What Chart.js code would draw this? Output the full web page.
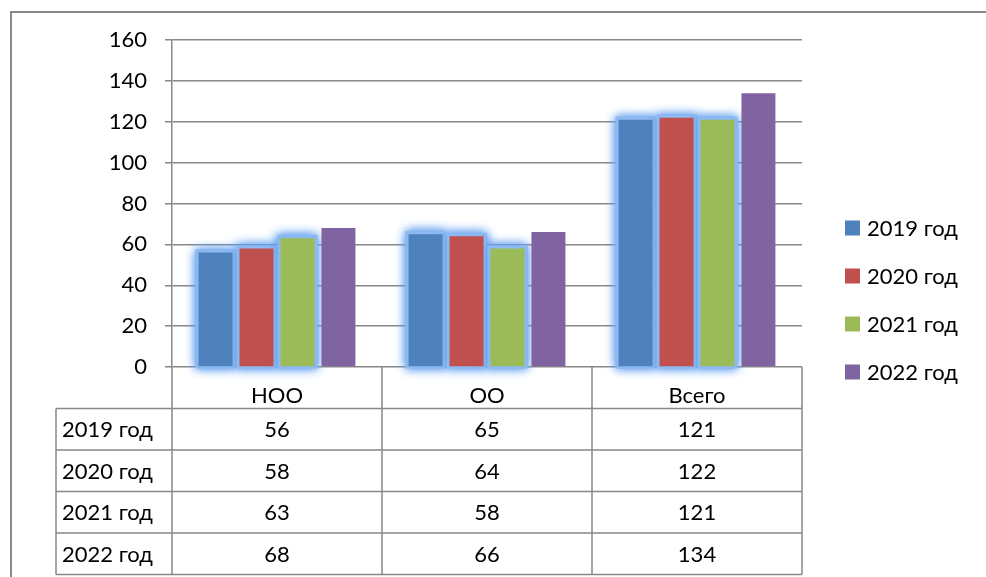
<!DOCTYPE html>
<html>
<head>
<meta charset="utf-8">
<script src="https://cdn.jsdelivr.net/npm/chart.js@4.4.0/dist/chart.umd.min.js"></script>
<style>
  html, body { margin: 0; padding: 0; background: #fff; }
  #wrap { width: 986px; height: 577px; position: relative; }
</style>
</head>
<body>
<div id="wrap"><canvas id="chart" width="986" height="577"></canvas></div>
<script>
const categories = ['НОО', 'ОО', 'Всего'];
const seriesNames = ['2019 год', '2020 год', '2021 год', '2022 год'];
const values2019 = [56, 65, 121];
const values2020 = [58, 64, 122];
const values2021 = [63, 58, 121];
const values2022 = [68, 66, 134];
const seriesColors = ['#4F81BD', '#C0504D', '#9BBB59', '#8064A2'];
const yMax = 160;
const yStep = 20;

const FONT = 'Lato, "Open Sans", sans-serif';
const FONT_SIZE = 22;
const lineGray = '#888888';
const ROW_H = 41.5;

// glow behind the first three series
const glowPlugin = {
  id: 'glow',
  beforeDatasetsDraw(chart) {
    const ctx = chart.ctx;
    ctx.save();
    ctx.shadowColor = 'rgba(100,160,240,1)';
    ctx.shadowBlur = 10;
    ctx.fillStyle = 'rgba(140,185,240,1)';
    for (let pass = 0; pass < 2; pass++) {
      for (let d = 0; d < 3; d++) {
        const meta = chart.getDatasetMeta(d);
        meta.data.forEach(bar => {
          const w = bar.width;
          ctx.fillRect(bar.x - w / 2 - 3, bar.y - 3, w + 6, bar.base - bar.y + 5);
        });
      }
    }
    ctx.restore();
  }
};

// data table under the axis, legend on the right, outer frame
const tablePlugin = {
  id: 'table',
  afterDraw(chart) {
    const ctx = chart.ctx;
    const area = chart.chartArea;
    const n = categories.length;
    const catW = (area.right - area.left) / n;
    const top = area.bottom;
    const headBottom = top + ROW_H;
    const tableLeft = 56;
    const tableBottom = headBottom + ROW_H * seriesNames.length;

    ctx.save();
    ctx.strokeStyle = lineGray;
    ctx.lineWidth = 1.5;
    ctx.beginPath();
    for (let r = 0; r <= seriesNames.length; r++) {
      const y = headBottom + r * ROW_H;
      ctx.moveTo(tableLeft, y);
      ctx.lineTo(area.right, y);
    }
    ctx.moveTo(tableLeft, headBottom);
    ctx.lineTo(tableLeft, tableBottom);
    for (let i = 0; i <= n; i++) {
      const x = area.left + i * catW;
      ctx.moveTo(x, top);
      ctx.lineTo(x, tableBottom);
    }
    ctx.stroke();

    ctx.fillStyle = '#000';
    ctx.font = FONT_SIZE + 'px ' + FONT;
    ctx.textBaseline = 'middle';
    const allValues = [values2019, values2020, values2021, values2022];
    seriesNames.forEach((name, r) => {
      const yc = headBottom + r * ROW_H + ROW_H / 2 + 1;
      ctx.textAlign = 'left';
      ctx.fillText(name, tableLeft + 6, yc);
      ctx.textAlign = 'center';
      allValues[r].forEach((v, i) => {
        ctx.fillText(String(v), chart.scales.x.getPixelForValue(i), yc);
      });
    });

    // legend
    const legX = 845;
    const legY0 = 228;
    const legGap = 48;
    seriesNames.forEach((name, r) => {
      const yc = legY0 + r * legGap;
      ctx.fillStyle = seriesColors[r];
      ctx.fillRect(legX, yc - 7.5, 15, 15);
      ctx.fillStyle = '#000';
      ctx.textAlign = 'left';
      ctx.fillText(name, legX + 22, yc + 1);
    });

    // outer frame
    ctx.strokeStyle = '#8a8a8a';
    ctx.lineWidth = 2;
    ctx.beginPath();
    ctx.moveTo(11, 577);
    ctx.lineTo(11, 12);
    ctx.lineTo(986, 12);
    ctx.stroke();
    ctx.restore();
  }
};

const ctx = document.getElementById('chart').getContext('2d');
new Chart(ctx, {
  type: 'bar',
  data: {
    labels: categories,
    datasets: [values2019, values2020, values2021, values2022].map((vals, i) => ({
      label: seriesNames[i],
      data: vals,
      backgroundColor: seriesColors[i],
      borderWidth: 0,
      categoryPercentage: 0.78,
      barPercentage: 0.83
    }))
  },
  options: {
    responsive: false,
    animation: false,
    devicePixelRatio: 1,
    layout: { padding: { left: 0, right: 184, top: 40, bottom: 3 } },
    plugins: {
      legend: { display: false },
      tooltip: { enabled: false }
    },
    scales: {
      x: {
        grid: { display: false },
        border: { display: false },
        ticks: {
          color: '#000',
          font: { family: FONT, size: FONT_SIZE },
          padding: 8
        },
        afterFit(scale) { scale.height = 207; }
      },
      y: {
        min: 0,
        max: yMax,
        ticks: {
          stepSize: yStep,
          color: '#000',
          font: { family: FONT, size: FONT_SIZE },
          padding: 18
        },
        grid: { color: lineGray, lineWidth: 1.5, tickLength: 7, tickColor: lineGray },
        border: { color: lineGray, width: 1.5 },
        afterFit(scale) { scale.width = 172; }
      }
    }
  },
  plugins: [glowPlugin, tablePlugin]
});
</script>
</body>
</html>
